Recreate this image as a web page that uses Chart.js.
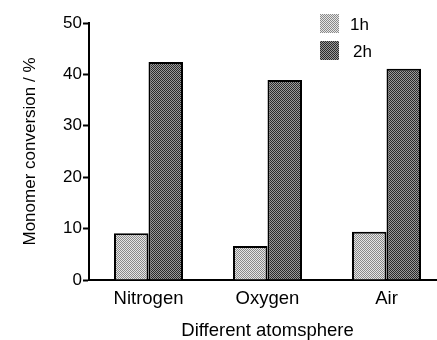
<!DOCTYPE html>
<html>
<head>
<meta charset="utf-8">
<script src="https://cdn.jsdelivr.net/npm/chart.js@4.4.1/dist/chart.umd.min.js"></script>
<style>
  html, body { margin: 0; padding: 0; background: #fff; overflow: hidden; }
  #wrap { width: 446px; height: 340px; }
</style>
</head>
<body>
<div id="wrap"><canvas id="chart"></canvas></div>
<script>
// data
const categories = ["Nitrogen", "Oxygen", "Air"];
const series_names = ["1h", "2h"];
const values_1h = [9.1, 6.6, 9.4];
const values_2h = [42.4, 38.9, 41.1];
const y_ticks = [0, 10, 20, 30, 40, 50];

// stippled fills
function makePattern(c1, c2){
    const p = document.createElement("canvas");
    p.width = 2;
    p.height = 2;
    const pc = p.getContext("2d");
    pc.fillStyle = c1;
    pc.fillRect(0, 0, 2, 2);
    pc.fillStyle = c2;
    pc.fillRect(0, 0, 1, 1);
    pc.fillRect(1, 1, 1, 1);
    return pc.createPattern(p, "repeat");
}
const light_fill = makePattern("#e6e6e6", "#8a8a8a");
const dark_fill = makePattern("#9a9a9a", "#2a2a2a");

const font_family = "'Liberation Sans', Arial, sans-serif";

// legend drawn in the top right corner
const cornerLegend = {
    id: "cornerLegend",
    afterDraw(chart){
        const ctx = chart.ctx;
        const sets = chart.data.datasets;
        ctx.save();
        ctx.font = "17px " + font_family;
        ctx.textBaseline = "middle";
        for(let i = 0; i < sets.length; i++){
            const y = 14 + i * 27;
            ctx.fillStyle = sets[i].backgroundColor;
            ctx.fillRect(320, y, 19, 19);
            ctx.fillStyle = "#000";
            ctx.fillText(sets[i].label, 350 + i * 3, y + 11);
        }
        ctx.restore();
    }
};

new Chart(document.getElementById("chart"), {
    type: "bar",
    data: {
        labels: categories,
        datasets: [
            {
                label: series_names[0],
                data: values_1h,
                backgroundColor: light_fill,
                borderColor: "#000",
                borderWidth: 2
            },
            {
                label: series_names[1],
                data: values_2h,
                backgroundColor: dark_fill,
                borderColor: "#000",
                borderWidth: 2
            }
        ]
    },
    options: {
        responsive: true,
        maintainAspectRatio: false,
        animation: false,
        layout: { padding: { top: 23, left: 0, right: 0, bottom: 0 } },
        datasets: { bar: { categoryPercentage: 0.58, barPercentage: 1.0 } },
        plugins: {
            legend: { display: false },
            tooltip: { enabled: false }
        },
        scales: {
            x: {
                grid: { display: false },
                border: { display: true, color: "#000", width: 2 },
                ticks: {
                    color: "#000",
                    padding: 0,
                    font: { family: font_family, size: 18.5 }
                },
                title: {
                    display: true,
                    text: "Different atomsphere",
                    color: "#000",
                    font: { family: font_family, size: 18.5, lineHeight: 0.95 },
                    padding: { top: 0, bottom: 0 }
                },
                afterFit(scale){ scale.height = 60; }
            },
            y: {
                min: 0,
                max: 50,
                afterBuildTicks(scale){
                    scale.ticks = y_ticks.map(v => ({ value: v }));
                },
                grid: {
                    drawOnChartArea: false,
                    drawTicks: true,
                    tickLength: 6,
                    tickWidth: 2,
                    tickColor: "#000"
                },
                border: { display: true, color: "#000", width: 2 },
                ticks: {
                    color: "#000",
                    padding: 1,
                    font: { family: font_family, size: 17 }
                },
                title: {
                    display: true,
                    text: "Monomer conversion / %",
                    color: "#000",
                    font: { family: font_family, size: 17 },
                    padding: { top: 20, bottom: 4 }
                },
                afterFit(scale){ scale.width = 89; }
            }
        }
    },
    plugins: [cornerLegend]
});
</script>
</body>
</html>
